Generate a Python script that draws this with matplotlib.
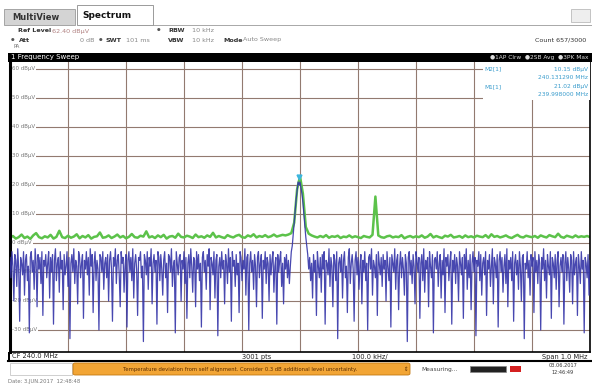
import numpy as np
import matplotlib.pyplot as plt
from matplotlib.patches import Rectangle, FancyBboxPatch

# sweep settings
cf = 240.0          # MHz
span = 1.0          # MHz
ref_level = 62.40   # dBuV
y_ticks = [60, 50, 40, 30, 20, 10, 0, -10, -20, -30]

# trace 1 (blue, clear write), 601 points across the span
blue_db = [
    -5, -12, -3, -8, -20, -4, -6, -15, -2, -9, -27, -5, -7, -11, -3, -18, -6, -4, -13, -8,
    -31, -5, -3, -10, -6, -16, -2, -7, -22, -4, -9, -5, -14, -3, -25, -6, -8, -4, -12, -7,
    -3, -19, -5, -10, -4, -28, -6, -2, -13, -7, -5, -17, -3, -9, -6, -23, -4, -11, -8, -3,
    -15, -5, -33, -7, -4, -10, -2, -14, -6, -8, -21, -3, -5, -12, -7, -4, -26, -6, -9, -3,
    -11, -5, -18, -2, -8, -4, -24, -7, -3, -13, -6, -9, -30, -4, -5, -10, -3, -16, -7, -5,
    -12, -4, -20, -6, -3, -9, -27, -5, -8, -2, -14, -6, -4, -11, -22, -3, -7, -5, -17, -8,
    -4, -29, -6, -3, -10, -5, -13, -2, -19, -7, -4, -9, -25, -5, -6, -3, -12, -8, -34, -4,
    -6, -11, -3, -16, -5, -8, -2, -21, -7, -4, -10, -6, -28, -3, -5, -13, -4, -9, -18, -6,
    -3, -12, -7, -24, -4, -5, -10, -2, -15, -8, -6, -31, -3, -7, -11, -5, -4, -20, -6, -9,
    -3, -14, -5, -26, -7, -4, -12, -2, -8, -17, -5, -6, -22, -3, -9, -4, -13, -7, -29, -5,
    -3, -10, -6, -16, -4, -8, -2, -23, -5, -7, -11, -3, -19, -6, -4, -32, -8, -5, -12, -3,
    -9, -6, -21, -4, -7, -14, -2, -10, -5, -27, -3, -8, -6, -15, -4, -11, -7, -24, -3, -5,
    -13, -6, -9, -2, -18, -5, -4, -30, -7, -3, -10, -6, -16, -4, -8, -22, -5, -3, -12, -7,
    -4, -26, -6, -9, -3, -14, -5, -7, -20, -4, -11, -6, -3, -17, -8, -5, -28, -4, -10, -6,
    -3, -15, -7, -21, -5, -9, -4, -12, -6, -14, -8, -3, -1, 3, 7, 11, 15, 18, 21, 20,
    21, 19, 17, 14, 10, 6, 2, -1, -4, -9, -5, -13, -7, -19, -4, -10, -6, -25, -3, -8,
    -12, -5, -17, -4, -9, -3, -28, -6, -7, -11, -2, -15, -5, -8, -22, -4, -6, -13, -3, -33,
    -7, -5, -10, -4, -19, -6, -3, -12, -8, -24, -5, -2, -14, -7, -4, -9, -27, -6, -3, -11,
    -5, -16, -8, -4, -21, -6, -10, -3, -13, -7, -30, -5, -4, -9, -2, -18, -6, -8, -12, -4,
    -25, -3, -7, -11, -5, -15, -4, -9, -6, -20, -3, -8, -13, -5, -29, -4, -7, -10, -2, -16,
    -6, -4, -23, -8, -3, -12, -5, -9, -18, -4, -7, -34, -5, -3, -11, -6, -14, -4, -8, -21,
    -3, -6, -10, -5, -26, -7, -4, -13, -2, -17, -6, -9, -5, -22, -3, -8, -12, -4, -31, -6,
    -5, -9, -3, -15, -7, -4, -19, -6, -11, -2, -24, -5, -8, -4, -13, -7, -3, -28, -6, -10,
    -4, -14, -5, -8, -20, -3, -7, -11, -5, -26, -4, -9, -2, -16, -6, -12, -4, -23, -7, -3,
    -10, -5, -32, -6, -8, -3, -13, -4, -18, -7, -5, -11, -3, -25, -6, -9, -4, -15, -8, -2,
    -21, -5, -7, -12, -4, -29, -6, -3, -10, -5, -17, -8, -4, -14, -2, -22, -6, -9, -5, -13,
    -3, -27, -7, -4, -11, -6, -16, -3, -8, -20, -5, -4, -33, -7, -9, -3, -12, -6, -18, -4,
    -8, -5, -24, -3, -10, -6, -14, -4, -7, -30, -5, -9, -2, -13, -6, -19, -4, -8, -11, -3,
    -26, -5, -7, -12, -4, -16, -6, -3, -22, -8, -5, -10, -4, -28, -7, -3, -13, -5, -9, -17,
    -4, -6, -21, -3, -11, -7, -5, -25, -4, -8, -14, -3, -9, -6, -31, -5, -7, -12, -4, -18,
    -6,
]

# trace 2 (green, average), 201 points
green_db = [
    1.8, 2.4, 1.5, 2.0, 2.9, 1.7, 2.2, 1.4, 2.6, 3.4, 2.0, 1.6, 2.3, 1.9, 2.8, 1.5, 2.1, 4.2, 2.0, 1.7,
    2.5, 1.8, 2.2, 3.0, 1.6, 2.4, 1.9, 2.7, 1.5, 2.1, 2.3, 3.6, 1.8, 2.0, 2.6, 1.7, 2.2, 2.9, 1.9, 2.4,
    1.6, 2.1, 3.1, 2.0, 1.8, 2.5, 2.2, 4.0, 1.9, 2.3, 1.7, 2.6, 2.0, 2.8, 1.5, 2.2, 2.4, 1.8, 3.2, 2.1,
    1.9, 2.5, 2.2, 1.7, 2.9, 2.0, 2.3, 1.8, 2.6, 2.1, 3.5, 1.9, 2.4, 2.0, 1.7, 2.7, 2.2, 1.9, 2.5, 2.8,
    2.0, 1.8, 2.6, 2.2, 3.0, 1.9, 2.4, 2.1, 2.7, 2.0, 2.3, 2.9, 2.2, 2.5, 2.8, 2.6, 2.9, 3.4, 7.0, 18.5,
    23.0, 17.0, 5.5, 3.2, 2.6, 2.2, 1.9, 2.4, 2.0, 2.7, 1.8, 2.3, 2.1, 2.5, 1.7, 2.2, 2.0, 2.6, 1.9, 2.3,
    2.0, 1.7, 2.4, 2.1, 1.9, 2.8, 16.0, 2.6, 2.0, 1.8, 2.3, 2.5, 1.9, 2.2, 2.0, 2.7, 1.6, 2.1, 2.4, 1.9,
    2.3, 2.0, 2.6, 1.8, 2.2, 3.1, 1.9, 2.4, 2.0, 1.7, 2.5, 2.2, 2.8, 1.9, 2.1, 2.4, 1.8, 2.6, 2.0, 2.3,
    1.9, 2.5, 2.2, 2.0, 2.7, 1.8, 3.0, 2.1, 2.4, 1.9, 2.2, 2.6, 2.0, 1.7, 2.3, 2.8, 2.1, 1.9, 2.5, 2.2,
    2.0, 2.4, 1.8, 2.6, 2.2, 1.9, 2.7, 2.3, 2.0, 3.2, 2.1, 1.8, 2.5, 2.2, 1.9, 2.6, 2.0, 2.3, 2.1, 2.4,
    2.0,
]

m1_freq, m1_level = 239.998, 21.02

f_blue = np.linspace(cf - span / 2, cf + span / 2, len(blue_db))
f_green = np.linspace(cf - span / 2, cf + span / 2, len(green_db))

W, H = 592, 392
fig = plt.figure(figsize=(W / 100, H / 100), dpi=100)
fig.patch.set_facecolor("white")


def fx(x):
    return x / W


def fy(y):
    return 1 - y / H


def box(x0, y0, x1, y1, **kw):
    fig.patches.append(Rectangle((fx(x0), fy(y1)), fx(x1) - fx(x0), fy(y0) - fy(y1),
                                 transform=fig.transFigure, **kw))


# tabs
box(4, 9, 75, 25, facecolor="#d4d4d4", edgecolor="#9a9a9a", lw=0.6)
fig.text(fx(12), fy(18), "MultiView", fontsize=6, fontweight="bold", color="#333333", va="center")
box(77, 5, 153, 25, facecolor="white", edgecolor="#8a8a8a", lw=0.6)
fig.text(fx(82), fy(15), "Spectrum", fontsize=6.5, fontweight="bold", color="#111111", va="center")
fig.lines.append(plt.Line2D([fx(153), fx(592)], [fy(25), fy(25)], transform=fig.transFigure,
                            color="#9a9a9a", lw=0.6))
box(571, 9, 590, 22, facecolor="#eeeeee", edgecolor="#bbbbbb", lw=0.6)

# setting lines
hs = 4.6
fig.text(fx(18), fy(31), "Ref Level", fontsize=hs, fontweight="bold", color="#333333", va="center")
fig.text(fx(52), fy(31), "62.40 dBµV", fontsize=hs, color="#b08080", va="center")
fig.text(fx(157), fy(30), "●", fontsize=3, color="#555555", va="center")
fig.text(fx(168), fy(30), "RBW", fontsize=hs, fontweight="bold", color="#333333", va="center")
fig.text(fx(192), fy(30), "10 kHz", fontsize=hs, color="#888888", va="center")
fig.text(fx(11), fy(40), "●", fontsize=3, color="#555555", va="center")
fig.text(fx(19), fy(40), "Att", fontsize=hs, fontweight="bold", color="#333333", va="center")
fig.text(fx(80), fy(40), "0 dB", fontsize=hs, color="#888888", va="center")
fig.text(fx(99), fy(40), "●", fontsize=3, color="#555555", va="center")
fig.text(fx(105), fy(40), "SWT", fontsize=hs, fontweight="bold", color="#333333", va="center")
fig.text(fx(126), fy(40), "101 ms", fontsize=hs, color="#888888", va="center")
fig.text(fx(168), fy(40), "VBW", fontsize=hs, fontweight="bold", color="#333333", va="center")
fig.text(fx(192), fy(40), "10 kHz", fontsize=hs, color="#888888", va="center")
fig.text(fx(223), fy(40), "Mode", fontsize=hs, fontweight="bold", color="#333333", va="center")
fig.text(fx(243), fy(40), "Auto Sweep", fontsize=hs, color="#888888", va="center")
fig.text(fx(586), fy(40), "Count 657/3000", fontsize=hs, color="#333333", va="center", ha="right")
fig.text(fx(13), fy(47), "PA", fontsize=3.8, color="#777777", va="center")

# black title bar
box(8, 53, 592, 62, facecolor="black", edgecolor="none")
fig.text(fx(11), fy(57.5), "1 Frequency Sweep", fontsize=5, color="white", va="center")
fig.text(fx(588), fy(57.5), "●1AP Clrw  ●2SB Avg  ●3PK Max", fontsize=4.2, color="#dddddd",
         va="center", ha="right")

# main plot
ax = fig.add_axes([fx(10), fy(352), fx(590) - fx(10), fy(62) - fy(352)])
ax.set_xlim(cf - span / 2, cf + span / 2)
ax.set_ylim(ref_level - 100, ref_level)
ax.set_xticks(np.linspace(cf - span / 2, cf + span / 2, 11))
ax.set_yticks(y_ticks)
ax.tick_params(length=0, labelbottom=False, labelleft=False)
ax.grid(True, color="#927a70", lw=0.8)
ax.set_axisbelow(True)
for s in ax.spines.values():
    s.set_color("black")
ax.spines["left"].set_linewidth(2.2)
ax.spines["right"].set_linewidth(1.2)
ax.spines["bottom"].set_linewidth(1.2)
ax.spines["top"].set_visible(False)

for v in y_ticks:
    ax.text(cf - span / 2 + 0.004, v, f"{v} dBµV", fontsize=4, color="#777777", va="center",
            zorder=1.5, bbox=dict(facecolor="white", edgecolor="none", pad=0.4))

ax.plot(f_green, green_db, color="#5cc24a", lw=1.8, zorder=2)
ax.plot(f_blue, blue_db, color="#3434a8", lw=0.9, alpha=0.9, zorder=3)
ax.plot(m1_freq, m1_level + 1.8, marker="v", color="#3db6de", ms=3.5, zorder=4)

# marker table
ax.add_patch(Rectangle((0.815, 0.87), 0.19, 0.13, transform=ax.transAxes, facecolor="white",
                       edgecolor="none", zorder=5))
mc = "#3a9ccc"
ax.text(0.818, 0.975, "M2[1]", transform=ax.transAxes, fontsize=4.2, color=mc, va="center", zorder=6)
ax.text(0.997, 0.975, "10.15 dBµV", transform=ax.transAxes, fontsize=4.2, color=mc, va="center",
        ha="right", zorder=6)
ax.text(0.997, 0.947, "240.131290 MHz", transform=ax.transAxes, fontsize=4.2, color=mc,
        va="center", ha="right", zorder=6)
ax.text(0.818, 0.915, "M1[1]", transform=ax.transAxes, fontsize=4.2, color=mc, va="center", zorder=6)
ax.text(0.997, 0.915, "21.02 dBµV", transform=ax.transAxes, fontsize=4.2, color=mc, va="center",
        ha="right", zorder=6)
ax.text(0.997, 0.887, "239.998000 MHz", transform=ax.transAxes, fontsize=4.2, color=mc,
        va="center", ha="right", zorder=6)

# bottom info bar
box(8, 352, 10, 361, facecolor="black", edgecolor="none")
fig.lines.append(plt.Line2D([fx(8), fx(592)], [fy(361), fy(361)], transform=fig.transFigure,
                            color="black", lw=1.5))
fs = 4.8
fig.text(fx(12), fy(356.5), "CF 240.0 MHz", fontsize=fs, color="#222222", va="center")
fig.text(fx(242), fy(356.5), "3001 pts", fontsize=fs, color="#222222", va="center")
fig.text(fx(352), fy(356.5), "100.0 kHz/", fontsize=fs, color="#222222", va="center")
fig.text(fx(588), fy(356.5), "Span 1.0 MHz", fontsize=fs, color="#222222", va="center", ha="right")

# status bar
box(10, 363, 72, 375, facecolor="white", edgecolor="#c8c8c8", lw=0.6)
fig.patches.append(FancyBboxPatch((fx(73), fy(375)), fx(410) - fx(73), fy(363) - fy(375),
                                  boxstyle="round,pad=0,rounding_size=0.004",
                                  transform=fig.transFigure, facecolor="#f2a535",
                                  edgecolor="#c27812", lw=0.6))
fig.text(fx(240), fy(369), "Temperature deviation from self alignment. Consider 0.3 dB additional "
         "level uncertainty.", fontsize=3.8, color="#5a2c00", va="center", ha="center")
fig.text(fx(406), fy(369), "⇕", fontsize=4, color="#5a2c00", va="center", ha="center")
fig.text(fx(421), fy(369), "Measuring...", fontsize=4.2, color="#444444", va="center")
box(470, 366, 506, 372, facecolor="#222222", edgecolor="#888888", lw=0.5)
box(510, 366, 521, 372, facecolor="#d42020", edgecolor="none")
fig.text(fx(563), fy(365.5), "03.06.2017", fontsize=3.6, color="#333333", va="center", ha="center")
fig.text(fx(563), fy(372), "12:46:49", fontsize=3.6, color="#333333", va="center", ha="center")

fig.text(fx(8), fy(382), "Date: 3.JUN.2017  12:48:48", fontsize=3.8, color="#777777", va="center")

fig.savefig("out.png", dpi=100)
